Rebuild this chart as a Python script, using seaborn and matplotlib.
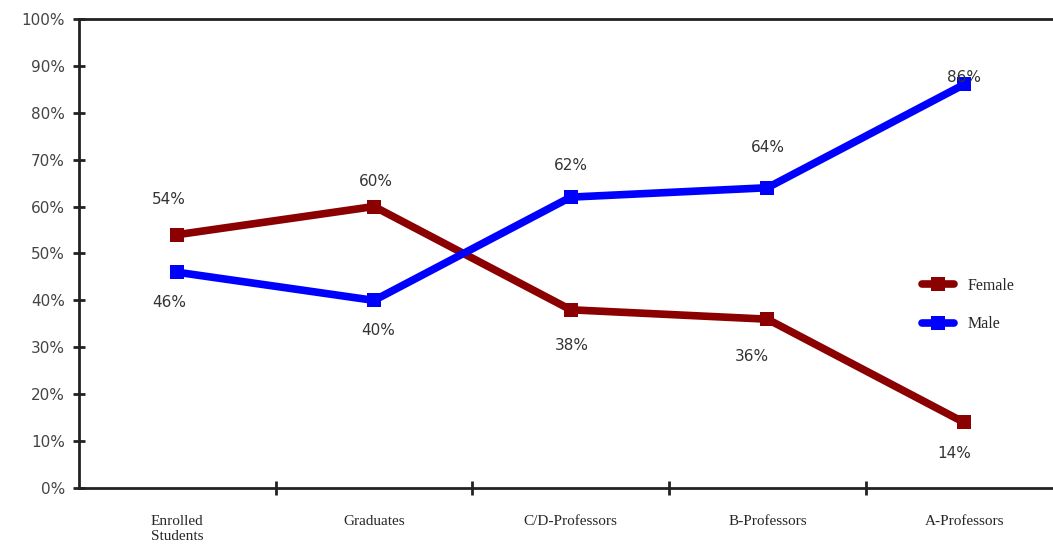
import matplotlib.pyplot as plt
import seaborn as sns
import pandas as pd
from matplotlib.ticker import FixedLocator, PercentFormatter

# data
stages = ['Enrolled\nStudents', 'Graduates', 'C/D-Professors', 'B-Professors', 'A-Professors']
female = [54, 60, 38, 36, 14]
male = [46, 40, 62, 64, 86]

df = pd.DataFrame({
    'stage': stages * 2,
    'share': female + male,
    'gender': ['Female'] * len(stages) + ['Male'] * len(stages),
})

sns.set_style('white')
fig = plt.figure(figsize=(10.53, 5.51), dpi=100)
ax = fig.add_axes([0.075, 0.114, 0.934, 0.852])

sns.lineplot(data=df, x='stage', y='share', hue='gender',
             palette={'Female': '#8b0000', 'Male': '#0000ff'},
             marker='s', markersize=10, markeredgewidth=0, linewidth=5.5,
             ax=ax, legend=True)

ax.set_xlim(-0.5, 4.5)
ax.set_ylim(0, 100)
ax.set_yticks(range(0, 101, 10))
ax.yaxis.set_major_formatter(PercentFormatter(decimals=0))
ax.set_xlabel('')
ax.set_ylabel('')

# category labels centred, tick marks between categories
ax.set_xticks(range(len(stages)))
ax.set_xticklabels(stages, family='Liberation Serif', fontsize=11)
ax.xaxis.set_minor_locator(FixedLocator([0.5, 1.5, 2.5, 3.5]))
ax.tick_params(axis='x', which='major', bottom=True, length=0, pad=19)
ax.tick_params(axis='x', which='minor', bottom=True, length=10, width=2,
               direction='inout', color='#222222')
ax.tick_params(axis='y', left=True, length=8, width=2, direction='inout', color='#222222',
               labelsize=11, labelcolor='#444444', pad=6)

for side in ['left', 'bottom', 'top']:
    ax.spines[side].set_color('#222222')
    ax.spines[side].set_linewidth(2)
ax.spines['right'].set_visible(False)

# data labels (offsets in points)
offsets_f = [(-6, 25), (1, 18), (1, -26), (-11, -27), (-7, -22)]
offsets_m = [(-6, -22), (3, -22), (0, 23), (0, 29), (0, 5)]
for i, (f, m) in enumerate(zip(female, male)):
    ax.annotate(f'{f}%', (i, f), xytext=offsets_f[i], textcoords='offset points',
                ha='center', va='center', fontsize=11, color='#333333')
    ax.annotate(f'{m}%', (i, m), xytext=offsets_m[i], textcoords='offset points',
                ha='center', va='center', fontsize=11, color='#333333')

leg = ax.legend(loc='center left', bbox_to_anchor=(0.843, 0.39), frameon=False,
                prop={'family': 'Liberation Serif', 'size': 11.5}, handlelength=2.0,
                labelspacing=1.4)

fig.savefig('out.png', dpi=100)
